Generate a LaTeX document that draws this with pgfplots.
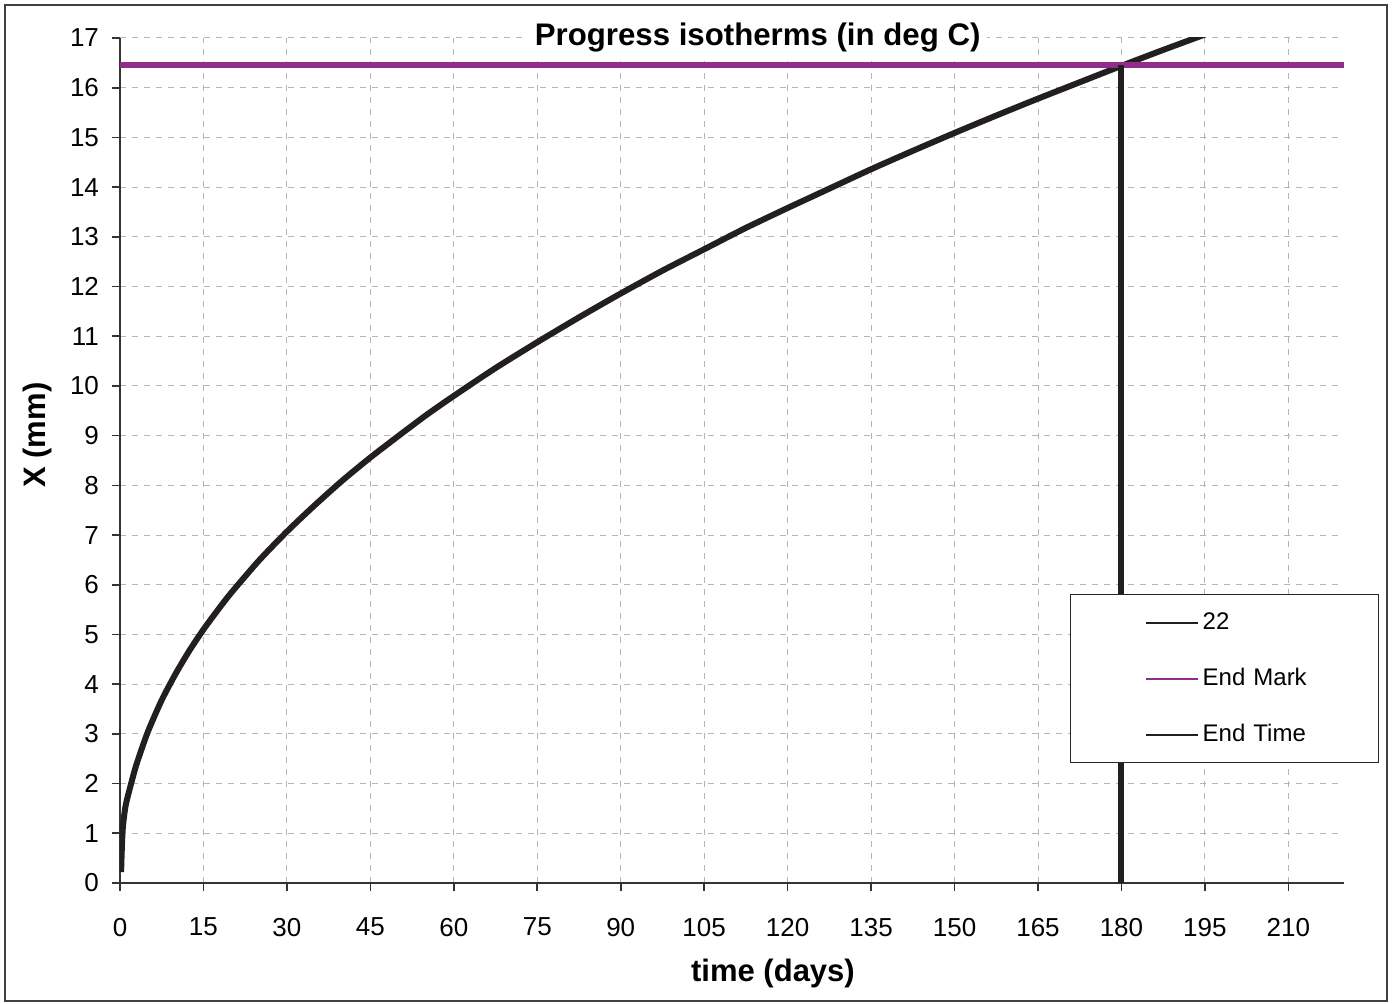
\documentclass[border=0pt]{standalone}
\usepackage{pgfplots}
\pgfplotsset{compat=1.18}
\usepackage{fontspec}
\setmainfont{Liberation Sans}
\definecolor{endmark}{RGB}{146,44,140}
\definecolor{curve}{RGB}{35,31,32}
\definecolor{gridgray}{RGB}{180,180,190}
\begin{document}
\begin{tikzpicture}
% outer chart frame (1 px of the reference = 0.5pt)
\path (0pt,0pt) rectangle (697pt,501.5pt);
\draw[black!75,line width=1pt] (2.5pt,1pt) rectangle (693.5pt,499pt);
\begin{axis}[
    at={(60pt,60pt)}, anchor=south west,
    scale only axis,
    width=612pt, height=422.5pt,
    xmin=0, xmax=220, ymin=0, ymax=17,
    xtick={0,15,...,210},
    ytick={0,1,...,17},
    axis lines*=left,
    axis line style={black!80,line width=0.8pt},
    tick align=outside,
    major tick length=4pt,
    tick style={black!80,line width=0.8pt},
    grid=major,
    major grid style={gridgray,dashed,line width=0.5pt},
    tick label style={font=\fontsize{13}{15}\selectfont},
    /pgf/number format/assume math mode=true,
    xticklabel style={yshift=-10pt},
    yticklabel style={xshift=-3pt},
    title={Progress isotherms (in deg C)},
    title style={at={(axis description cs:0.521,1)}, anchor=center, fill=white,
        inner ysep=1pt, font=\bfseries\fontsize{15.6}{17}\selectfont, yshift=-6pt},
    xlabel={time (days)},
    xlabel style={at={(axis description cs:0.5335,0)}, anchor=center,
        yshift=-45pt, font=\bfseries\fontsize{15.5}{17}\selectfont},
    ylabel={X (mm)},
    ylabel style={at={(axis description cs:0,0.53)}, anchor=center,
        yshift=41.5pt, font=\bfseries\fontsize{15.5}{17}\selectfont},
    legend style={at={(axis description cs:0.776,0.342)}, anchor=north west,
        draw=black!85, line width=0.7pt, fill=white,
        inner xsep=0pt, inner ysep=0pt, row sep=0pt,
        nodes={font=\fontsize{12}{14}\selectfont, minimum height=28pt,
            inner ysep=0pt, inner xsep=2pt, text width=86pt, align=left}},
    legend cell align=left,
    legend image code/.code={
        \path[draw=none] (0pt,0pt) -- (37.5pt,0pt);
        \draw[#1,line width=1.2pt] (37.5pt,0pt) -- (63.5pt,0pt);
    },
]
% isotherm 22
\addplot[curve, line width=3pt, smooth, tension=0.4] coordinates {
    (0.2,0.22) (0.3,0.6) (0.5,1.1) (1,1.55) (2,2.0) (3,2.4) (5,3.04)
    (7.5,3.68) (10,4.21) (12.5,4.68) (15,5.1) (17.5,5.48) (20,5.84)
    (25,6.49) (30,7.07) (35,7.60) (40,8.10) (45,8.56) (50,8.99) (55,9.41)
    (60,9.8) (67.5,10.36) (75,10.88) (82.5,11.38) (90,11.86) (97.5,12.32)
    (105,12.75) (112.5,13.18) (120,13.58) (127.5,13.97) (135,14.36)
    (142.5,14.73) (150,15.09) (157.5,15.44) (165,15.78) (172.5,16.11)
    (180,16.44) (187.5,16.76) (195,17.07)
};
\addlegendentry{22}
% End Mark
\addplot[endmark, line width=3pt] coordinates {(0,16.45) (220,16.45)};
\addlegendentry{End Mark}
% End Time
\addplot[curve, line width=3pt] coordinates {(180,0) (180,16.45)};
\addlegendentry{End Time}
\end{axis}
\end{tikzpicture}
\end{document}
